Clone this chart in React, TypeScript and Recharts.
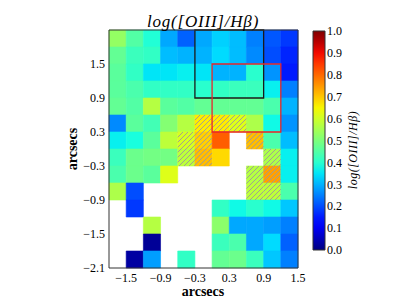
import { ComposedChart, XAxis, YAxis, ReferenceArea } from 'recharts'

// cell centres (arcsec)
const xCenters = [-1.65, -1.35, -1.05, -0.75, -0.45, -0.15, 0.15, 0.45, 0.75, 1.05, 1.35]
const yCenters = [1.95, 1.65, 1.35, 1.05, 0.75, 0.45, 0.15, -0.15, -0.45, -0.75, -1.05, -1.35, -1.65, -1.95]
const cell = 0.3

// log([OIII]/Hb) per row, top to bottom; null = no data
const ratio: (number | null)[][] = [
  [0.53, 0.45, 0.39, 0.29, 0.22, 0.29, 0.33, 0.31, 0.25, 0.21, 0.18],
  [0.47, 0.42, 0.41, 0.31, 0.30, 0.30, 0.34, 0.31, 0.26, 0.20, 0.16],
  [0.46, 0.41, 0.35, 0.35, 0.36, 0.35, 0.30, 0.30, 0.40, 0.27, 0.15],
  [0.46, 0.44, 0.41, 0.41, 0.41, 0.40, 0.41, 0.42, 0.42, 0.36, 0.25],
  [0.47, 0.45, 0.57, 0.46, 0.45, 0.47, 0.47, 0.47, 0.47, 0.44, 0.30],
  [0.26, 0.46, 0.43, 0.51, 0.57, 0.66, 0.66, 0.62, 0.56, 0.37, 0.27],
  [0.36, 0.38, 0.46, 0.58, 0.61, 0.69, 0.81, null, 0.71, 0.44, 0.31],
  [0.42, 0.48, 0.49, 0.49, 0.58, 0.71, 0.68, null, null, 0.56, 0.36],
  [0.44, 0.48, 0.46, 0.62, null, null, null, null, 0.57, 0.74, 0.36],
  [0.56, 0.20, null, null, null, null, null, null, 0.58, 0.58, 0.44],
  [null, 0.18, null, null, null, null, 0.41, 0.37, 0.40, 0.37, 0.32],
  [null, null, 0.57, null, null, null, 0.52, 0.29, 0.29, 0.28, 0.25],
  [null, null, 0.02, null, null, null, 0.42, 0.44, 0.29, 0.34, 0.22],
  [null, 0.03, 0.28, null, 0.41, null, 0.47, 0.48, 0.42, 0.32, 0.25],
]

// hatched cells as [col, row]
const hatched = [[5, 5], [6, 5], [7, 5], [4, 6], [5, 6], [8, 6], [4, 7], [5, 7], [9, 7], [8, 8], [9, 8], [8, 9], [9, 9]]

const blackBox = { x1: -0.3, x2: 0.9, y1: 0.9, y2: 2.1 }
const redBox = { x1: 0.0, x2: 1.2, y1: 0.3, y2: 1.5 }

const xTicks = [-1.5, -0.9, -0.3, 0.3, 0.9, 1.5]
const yTicks = [-2.1, -1.5, -0.9, -0.3, 0.3, 0.9, 1.5]
const cbTicks = [0, 0.1, 0.2, 0.3, 0.4, 0.5, 0.6, 0.7, 0.8, 0.9, 1.0]

const R = [[0, 0], [0.35, 0], [0.66, 1], [0.89, 1], [1, 0.5]]
const G = [[0, 0], [0.125, 0], [0.375, 1], [0.64, 1], [0.91, 0], [1, 0]]
const B = [[0, 0.5], [0.11, 1], [0.34, 1], [0.65, 0], [1, 0]]

function seg(pts: number[][], v: number) {
  for (let i = 1; i < pts.length; i++) {
    if (v <= pts[i][0]) {
      const [x0, y0] = pts[i - 1]
      const [x1, y1] = pts[i]
      return y0 + ((v - x0) / (x1 - x0)) * (y1 - y0)
    }
  }
  return pts[pts.length - 1][1]
}

function jet(v: number) {
  const c = Math.max(0, Math.min(1, v))
  const h = (n: number) => Math.round(n * 255).toString(16).padStart(2, '0')
  return `#${h(seg(R, c))}${h(seg(G, c))}${h(seg(B, c))}`
}

const fmt = (v: number) => (v < 0 ? `\u2212${Math.abs(v).toFixed(1)}` : v.toFixed(1))

const font = '"Liberation Serif", "DejaVu Serif", serif'
const tickStyle = { fill: '#000', fontSize: 12, fontFamily: font }

export default function App() {
  const stops = Array.from({ length: 21 }, (_, i) => i / 20)
  return (
    <div style={{ position: 'absolute', left: 0, top: 0, width: 399, height: 299, background: '#fff' }}>
      <ComposedChart width={399} height={299} margin={{ top: 30, right: 101, bottom: 0, left: 0 }}>
        <defs>
          <pattern id="hatch" patternUnits="userSpaceOnUse" width={5} height={5}>
            <path d="M0,5 L5,0 M-1,1 L1,-1 M4,6 L6,4" stroke="#9a9a9a" strokeWidth={0.9} />
          </pattern>
        </defs>
        <XAxis
          type="number" dataKey="x" domain={[-1.8, 1.5]} ticks={xTicks} tickFormatter={fmt}
          height={31} axisLine={false} tickLine={false} tickSize={0} tickMargin={5}
          tick={tickStyle} allowDataOverflow
        />
        <YAxis
          type="number" dataKey="y" domain={[-2.1, 2.1]} ticks={yTicks} tickFormatter={fmt}
          width={109} axisLine={false} tickLine={false} tickSize={0} tickMargin={4}
          tick={tickStyle} allowDataOverflow
        />

        {ratio.flatMap((row, r) =>
          row.map((v, c) =>
            v === null ? null : (
              <ReferenceArea
                key={`c${r}-${c}`}
                x1={xCenters[c] - cell / 2} x2={xCenters[c] + cell / 2}
                y1={yCenters[r] - cell / 2} y2={yCenters[r] + cell / 2}
                fill={jet(v)} fillOpacity={1} stroke={jet(v)} strokeWidth={0.6}
                ifOverflow="visible"
              />
            )
          )
        )}

        {hatched.map(([c, r]) => (
          <ReferenceArea
            key={`h${r}-${c}`}
            x1={xCenters[c] - cell / 2} x2={xCenters[c] + cell / 2}
            y1={yCenters[r] - cell / 2} y2={yCenters[r] + cell / 2}
            fill="url(#hatch)" fillOpacity={1} stroke="none" ifOverflow="visible"
          />
        ))}

        <ReferenceArea {...blackBox} fill="none" stroke="#1a1a1a" strokeWidth={1.3} ifOverflow="visible" />
        <ReferenceArea {...redBox} fill="none" stroke="#e8262a" strokeWidth={1.3} ifOverflow="visible" />
        <ReferenceArea x1={-1.8} x2={1.5} y1={-2.1} y2={2.1} fill="none" stroke="#333" strokeWidth={1} ifOverflow="visible" />
      </ComposedChart>

      <div style={{ position: 'absolute', left: 300, top: 0 }}>
        <ComposedChart width={99} height={299} margin={{ top: 31, right: 34, bottom: 49, left: 13 }}>
          <defs>
            <linearGradient id="jetGrad" x1="0" y1="1" x2="0" y2="0">
              {stops.map((s) => (
                <stop key={s} offset={`${s * 100}%`} stopColor={jet(s)} />
              ))}
            </linearGradient>
          </defs>
          <XAxis type="number" dataKey="x" domain={[0, 1]} hide allowDataOverflow />
          <YAxis
            orientation="right" type="number" dataKey="v" domain={[0, 1]} ticks={cbTicks}
            tickFormatter={(v: number) => v.toFixed(1)} width={40} axisLine={false}
            tickLine={false} tickSize={0} tickMargin={2} tick={tickStyle} allowDataOverflow
          />
          <ReferenceArea x1={0} x2={1} y1={0} y2={1} fill="url(#jetGrad)" fillOpacity={1} stroke="#333" strokeWidth={1} ifOverflow="visible" />
        </ComposedChart>
      </div>

      <div style={{ position: 'absolute', left: 203, top: 21, transform: 'translate(-50%,-50%)', fontFamily: font, fontStyle: 'italic', fontSize: 17, letterSpacing: 0.8, whiteSpace: 'nowrap', lineHeight: 1 }}>
        log([OIII]/Hβ)
      </div>
      <div style={{ position: 'absolute', left: 203, top: 292, transform: 'translate(-50%,-50%)', fontFamily: font, fontWeight: 'bold', fontSize: 14, whiteSpace: 'nowrap', lineHeight: 1 }}>
        arcsecs
      </div>
      <div style={{ position: 'absolute', left: 73, top: 149, transform: 'translate(-50%,-50%) rotate(-90deg)', fontFamily: font, fontWeight: 'bold', fontSize: 14, whiteSpace: 'nowrap', lineHeight: 1 }}>
        arcsecs
      </div>
      <div style={{ position: 'absolute', left: 353, top: 150, transform: 'translate(-50%,-50%) rotate(-90deg)', fontFamily: font, fontStyle: 'italic', fontSize: 12, letterSpacing: 0.5, whiteSpace: 'nowrap', lineHeight: 1 }}>
        log([OIII]/Hβ)
      </div>
    </div>
  )
}
